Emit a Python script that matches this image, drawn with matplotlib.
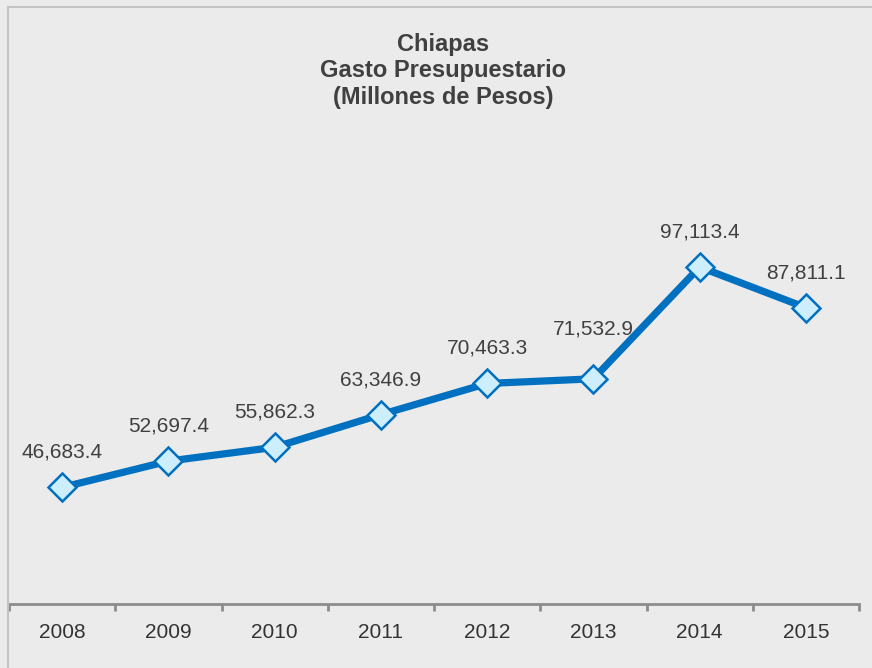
import matplotlib.pyplot as plt
from matplotlib.lines import Line2D

plt.rcParams['font.family'] = ['Liberation Sans', 'DejaVu Sans']

years = ["2008", "2009", "2010", "2011", "2012", "2013", "2014", "2015"]
gasto = [46683.4, 52697.4, 55862.3, 63346.9, 70463.3, 71532.9, 97113.4, 87811.1]
etiquetas = ["46,683.4", "52,697.4", "55,862.3", "63,346.9", "70,463.3",
             "71,532.9", "97,113.4", "87,811.1"]

W, H = 872, 668
bg = "#EBEBEB"
azul = "#0070C0"

fig = plt.figure(figsize=(W / 100, H / 100), dpi=100, facecolor=bg)
ax = fig.add_axes([9 / W, 1 - 604 / H, 850 / W, (604 - 167) / H])
ax.set_facecolor(bg)

x = list(range(len(years)))
ax.plot(x, gasto, color=azul, lw=5.2, marker="D", ms=14,
        markerfacecolor="#CDEFFD", markeredgecolor=azul, markeredgewidth=1.8,
        zorder=3)

for i, (v, t) in enumerate(zip(gasto, etiquetas)):
    off = 50 if years[i] == "2013" else 35
    ax.annotate(t, (i, v), xytext=(0, off), textcoords="offset pixels",
                ha="center", va="center", fontsize=15, color="#404040")

ax.set_xlim(-0.5, len(years) - 0.5)
ax.set_ylim(20000, 120000)
ax.set_yticks([])
ax.set_xticks(x)
ax.set_xticklabels(years, fontsize=15, color="#333333")
ax.set_xticks([i - 0.5 for i in range(len(years) + 1)], minor=True)
ax.tick_params(axis="x", which="major", length=0, pad=14)
ax.tick_params(axis="x", which="minor", length=5, width=2, color="#8C8C8C", direction="out")

for s in ["top", "right", "left"]:
    ax.spines[s].set_visible(False)
ax.spines["bottom"].set_color("#8C8C8C")
ax.spines["bottom"].set_linewidth(2)

fig.text(443 / W, 1 - 71 / H, "Chiapas\nGasto Presupuestario\n(Millones de Pesos)",
         ha="center", va="center", fontsize=17, fontweight="bold",
         color="#404040", linespacing=1.2)

# borde del area del grafico
fig.add_artist(Line2D([8 / W, 8 / W], [0, 1 - 7 / H], color="#C4C4C4", lw=1.5))
fig.add_artist(Line2D([8 / W, 1], [1 - 7 / H, 1 - 7 / H], color="#C4C4C4", lw=1.5))

fig.savefig("out.png", dpi=100, facecolor=bg)
